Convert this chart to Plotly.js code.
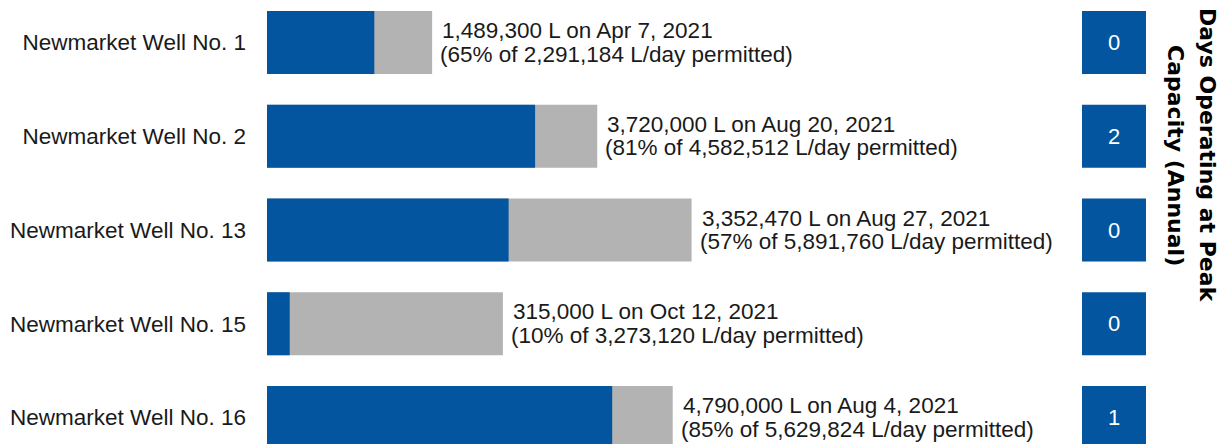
<!DOCTYPE html>
<html><head><meta charset="utf-8">
<script src="https://cdn.plot.ly/plotly-3.0.1.min.js"></script>
<style>html,body{margin:0;padding:0;background:#fff}#chart{width:1223px;height:444px}</style>
</head><body><div id="chart"></div>
<script>
const wells = ["Newmarket Well No. 1", "Newmarket Well No. 2", "Newmarket Well No. 13", "Newmarket Well No. 15", "Newmarket Well No. 16"];
const peakUse = [1489300, 3720000, 3352470, 315000, 4790000];
const peakDates = ["Apr 7, 2021", "Aug 20, 2021", "Aug 27, 2021", "Oct 12, 2021", "Aug 4, 2021"];
const permitted = [2291184, 4582512, 5891760, 3273120, 5629824];
const daysAtPeak = [0, 2, 0, 0, 1];
const titleLines = ["Days Operating at Peak", "Capacity (Annual)"];

const BLUE = "#02559e", GREY = "#b3b3b3", TXT = "#1a1a1a";
const FONT = "Liberation Sans, Arial, sans-serif";
const fmt = n => n.toLocaleString("en-US");

const PX_L = 13876;          // litres per pixel
const LEFT = 267, W = 1223;
const plotW = W - LEFT;

const traces = [
  {type: "bar", orientation: "h", y: wells, x: permitted, xaxis: "x", yaxis: "y",
   marker: {color: GREY}, hoverinfo: "skip"},
  {type: "bar", orientation: "h", y: wells, x: peakUse, xaxis: "x", yaxis: "y",
   marker: {color: BLUE}, hoverinfo: "skip"},
  {type: "bar", orientation: "h", y: wells, x: daysAtPeak.map(() => 1), xaxis: "x2", yaxis: "y",
   marker: {color: BLUE}, text: daysAtPeak.map(String), textposition: "inside",
   insidetextanchor: "middle", textfont: {color: "#ffffff", size: 22, family: FONT},
   hoverinfo: "skip"}
];

const annotations = [];
wells.forEach((w, i) => {
  const pct = Math.round(peakUse[i] / permitted[i] * 100);
  annotations.push({xref: "x", yref: "y", x: permitted[i], y: w, xanchor: "left", yanchor: "middle",
    xshift: 8, yshift: 12, showarrow: false, align: "left",
    text: fmt(peakUse[i]) + " L on " + peakDates[i],
    font: {size: 22.5, color: TXT, family: FONT}});
  annotations.push({xref: "x", yref: "y", x: permitted[i], y: w, xanchor: "left", yanchor: "middle",
    xshift: 6, yshift: -11.5, showarrow: false, align: "left",
    text: "(" + pct + "% of " + fmt(permitted[i]) + " L/day permitted)",
    font: {size: 22.5, color: TXT, family: FONT}});
});
const titleX = [1208, 1176];
titleLines.forEach((t, k) => {
  annotations.push({xref: "paper", yref: "paper", x: (titleX[k] - LEFT) / plotW, y: 1 - 155 / 444,
    xanchor: "center", yanchor: "middle", textangle: 90, showarrow: false, text: t,
    font: {size: 22, color: "#000", family: "DejaVu Sans, sans-serif", weight: "bold"}});
});

const layout = {
  width: W, height: 444,
  margin: {l: LEFT, r: 0, t: 0, b: 0, pad: 0},
  paper_bgcolor: "#fff", plot_bgcolor: "#fff",
  barmode: "overlay", bargap: 0.328, showlegend: false,
  xaxis: {domain: [0, 1], range: [0, plotW * PX_L], visible: false, fixedrange: true},
  xaxis2: {domain: [(1082 - LEFT) / plotW, (1146 - LEFT) / plotW], range: [0, 1], visible: false,
           anchor: "y", fixedrange: true},
  yaxis: {type: "category", range: [4.2827, -0.4533], showgrid: false, zeroline: false, showline: false,
          ticks: "", ticklabelstandoff: 20, tickfont: {size: 22.5, color: TXT, family: FONT}, fixedrange: true},
  annotations: annotations
};

Plotly.newPlot("chart", traces, layout, {displayModeBar: false, staticPlot: true});
</script>
</body></html>
